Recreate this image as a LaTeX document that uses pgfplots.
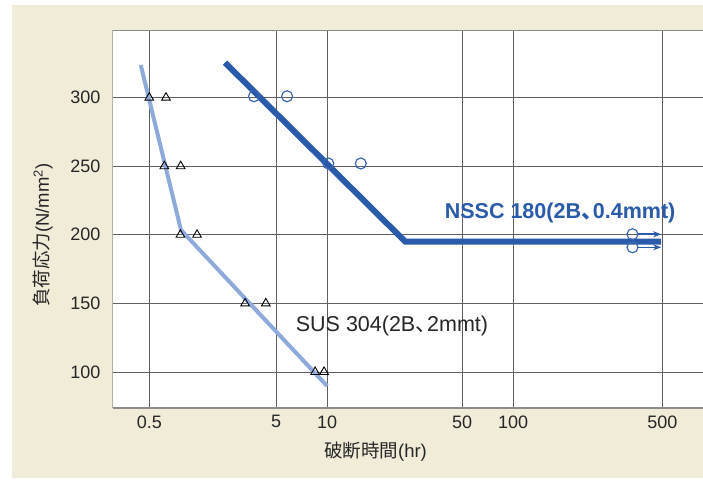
\documentclass[border=0pt]{standalone}
\usepackage{pgfplots}
\pgfplotsset{compat=1.18}
\usepackage{fontspec}
\setmainfont{Liberation Sans}
\newfontfamily\cjk{Noto Sans CJK JP}
\usetikzlibrary{arrows.meta}
\definecolor{bg}{RGB}{240,236,216}
\definecolor{sus}{RGB}{142,170,219}
\definecolor{nssc}{RGB}{42,91,170}
\definecolor{circ}{RGB}{58,104,180}
\definecolor{gridc}{RGB}{95,95,95}
\definecolor{framec}{RGB}{140,140,140}
\begin{document}
\begin{tikzpicture}[x=1pt,y=1pt]
\path[use as bounding box] (0,0) rectangle (703,479);
\fill[bg] (12,1) rectangle (703,474);
\begin{axis}[
  at={(112.5pt,70.7pt)}, anchor=south west,
  scale only axis, width=590.5pt, height=378pt,
  x coord trafo/.code={\pgfmathparse{149.3+126.7*(log10(#1)+0.30103)+42.7*max(log10(#1)-0.69897,0)+23.7*max(log10(#1)-1,0)-23.7*max(log10(#1)-1.69897,0)+44.2*max(log10(#1)-2,0)}},
  xmin=0.2562, xmax=774, ymin=73.5, ymax=349.1,
  xtick={0.5,5,10,50,100,500}, xticklabels={0.5,5,10,50,100,500},
  ytick={100,150,200,250,300},
  grid=major, major grid style={gridc, line width=0.8pt},
  major tick length=0pt,
  axis line style={draw=none},
  axis background/.style={fill=white},
  ticklabel style={font=\fontsize{18}{20}\selectfont, text=black!85},
  /pgf/number format/assume math mode=true,
  xticklabel style={anchor=north, inner sep=0pt, yshift=-7pt},
  yticklabel style={anchor=east, inner sep=0pt, xshift=-11.8pt},
]
\draw[framec, line width=2pt] (rel axis cs:0,1) -- (rel axis cs:1,1);
\draw[framec, line width=2pt] (rel axis cs:0,0) -- (rel axis cs:1,0);
\draw[black!75, line width=1pt] (rel axis cs:0,0) -- (rel axis cs:0,1);
\addplot[sus, line width=4pt, line join=round, mark=none] coordinates {(0.428,323.8) (0.889,203.5) (10.0,89.8)};
\addplot[nssc, line width=6pt, line join=miter, mark=none] coordinates {(1.98,325.5) (25.4,195) (493,195)};
\addplot[only marks, mark=triangle, mark size=5pt, mark options={draw=black, line width=0.9pt, fill=none}] coordinates {(0.5,300) (0.677,300) (0.657,250) (0.884,250) (0.879,200) (1.19,200) (2.85,150) (4.15,150) (8.5,100) (9.6,100)};
\addplot[only marks, mark=o, mark size=5.5pt, mark options={draw=circ, line width=1.2pt, fill=none}] coordinates {(3.35,301) (5.81,301) (10.15,252) (14.95,252) (362,200.4) (362,190.9)};
\addplot[nssc, line width=1.5pt, -{Stealth[length=8pt,width=6pt]}, mark=none] coordinates {(381,200.4) (493,200.4)};
\addplot[nssc, line width=1.5pt, -{Stealth[length=8pt,width=6pt]}, mark=none] coordinates {(381,190.9) (493,190.9)};
\node[font=\fontsize{21.5}{24}\selectfont\bfseries, text=nssc] at (rel axis cs:0.758,0.5167) {NSSC 180(2B\makebox[0.55em][l]{\cjk 、}0.4mmt)};
\node[font=\fontsize{21.5}{24}\selectfont, text=black!85] at (rel axis cs:0.4733,0.2177) {SUS 304(2B\makebox[0.55em][l]{\cjk 、}2mmt)};
\end{axis}
\node[font=\fontsize{18.5}{20}\selectfont, text=black!85] at (375.5,27) {{\cjk 破断時間}(hr)};
\node[rotate=90, font=\fontsize{18.5}{20}\selectfont, text=black!85] at (43,244) {{\cjk 負荷応力}(N/mm\textsuperscript{2})};
\end{tikzpicture}
\end{document}
